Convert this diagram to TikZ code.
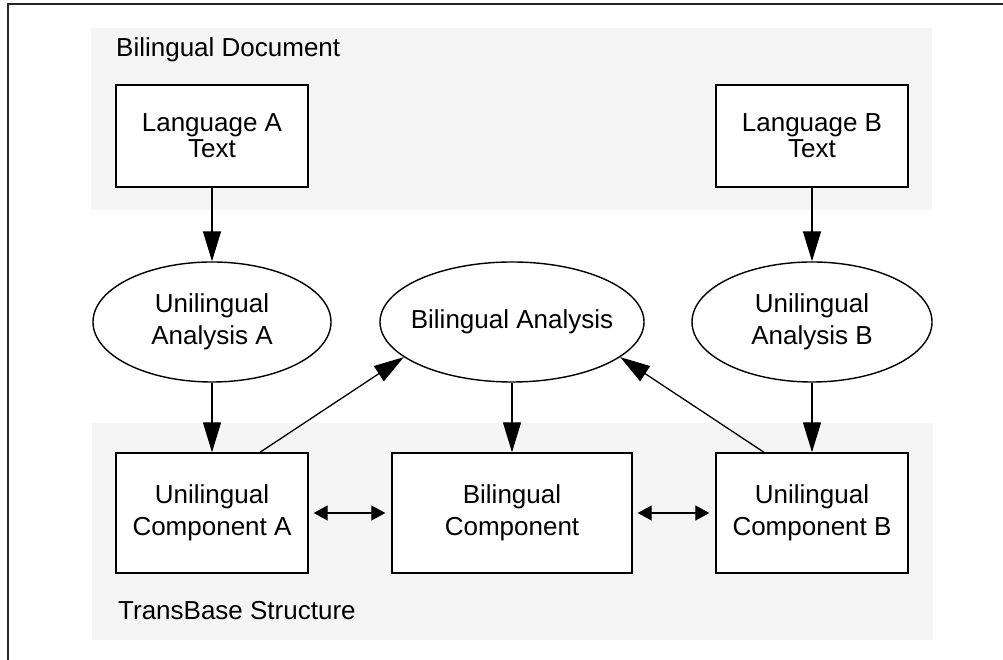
\documentclass[tikz,border=0pt]{standalone}
\usepackage{fontspec}
\setmainfont{Liberation Sans}
\usetikzlibrary{shapes.geometric,arrows.meta}

\tikzset{
  lbl/.style={font=\fontsize{26}{32}\selectfont, align=center},
  boxnode/.style={lbl, draw, line width=1.4pt, fill=white, inner sep=0pt,
    minimum width=192pt, minimum height=120pt},
  textbox/.style={boxnode, minimum height=102pt, font=\fontsize{26}{26}\selectfont},
  ellnode/.style={lbl, draw, ellipse, line width=1.4pt, fill=white, inner sep=0pt,
    minimum width=238pt, minimum height=120pt},
  flow/.style={line width=1.3pt, -{Triangle[length=30pt,width=18pt]}},
  link/.style={line width=1.3pt, {Triangle[length=14pt,width=15pt]}-{Triangle[length=14pt,width=15pt]},
    shorten <=5pt, shorten >=6pt},
  region/.style={fill=black!4, draw=none},
  title/.style={font=\fontsize{26}{32}\selectfont, anchor=base west, inner sep=0pt}
}

\begin{document}
\begin{tikzpicture}[x=1pt,y=1pt]
  \useasboundingbox (0,0) rectangle (1003,660);

  % outer frame
  \draw[line width=1.7pt, black!85] (8,0) -- (8,656) -- (1003,656);

  % shaded regions
  \fill[region] (91,450) rectangle (932,632);
  \fill[region] (92,20) rectangle (933,237);
  \node[title] (doc) at (116,603) {Bilingual Document};
  \node[title] (tbs) at (118,40) {TransBase Structure};

  % source texts
  \node[textbox] (la) at (212,524) {Language A\\Text};
  \node[textbox] (lb) at (812,524) {Language B\\Text};

  % analyses
  \node[ellnode] (ua) at (212,338) {Unilingual\\Analysis A};
  \node[ellnode, minimum width=240pt] (ub) at (812,338) {Unilingual\\Analysis B};
  \node[ellnode, minimum width=264pt, label={[lbl]center:Bilingual Analysis}] (ba) at (512,338) {};

  % components
  \node[boxnode] (ca) at (212,147) {Unilingual\\Component A};
  \node[boxnode, minimum width=240pt] (bc) at (512,147) {Bilingual\\Component};
  \node[boxnode] (cb) at (812,147) {Unilingual\\Component B};

  % connectors
  \draw[flow] (la.south) -- (ua.north);
  \draw[flow] (lb.south) -- (ub.north);
  \draw[flow] (ua.south) -- (ca.north);
  \draw[flow] (ub.south) -- (cb.north);
  \draw[flow] (ba.south) -- (bc.north);
  \draw[flow] ([xshift=48pt]ca.north) -- (ba.198);
  \draw[flow] ([xshift=-48pt]cb.north) -- (ba.342);
  \draw[link] (ca.east) -- (bc.west);
  \draw[link] (bc.east) -- (cb.west);
\end{tikzpicture}
\end{document}
